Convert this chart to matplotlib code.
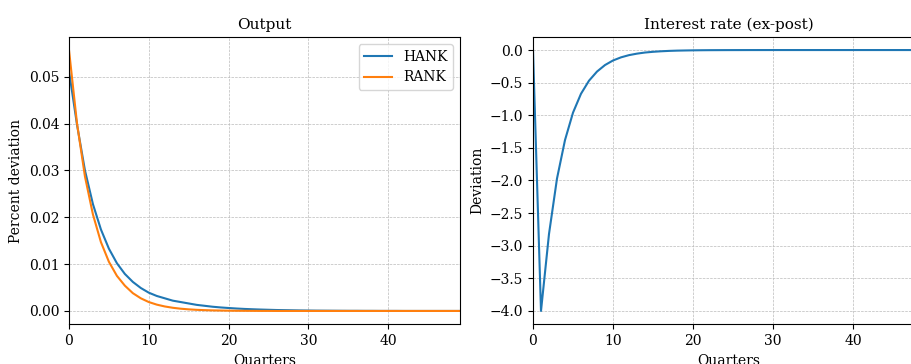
import matplotlib
matplotlib.use("Agg")
import matplotlib.pyplot as plt
import numpy as np

plt.rcParams['font.family'] = 'DejaVu Serif'
plt.rcParams['font.size'] = 10

# Impulse responses (quarters 0..49)
quarters = np.arange(50)

hank_output = [
    0.0512, 0.0398, 0.0300, 0.0228, 0.0174, 0.0133, 0.0102, 0.0079, 0.0062, 0.0049,
    0.0039, 0.0032, 0.0027, 0.0022, 0.0019, 0.0016, 0.0013, 0.0011, 0.0009, 0.00075,
    0.00063, 0.00052, 0.00043, 0.00036, 0.0003, 0.00025, 0.0002, 0.00017, 0.00014, 0.00011,
    0.00009, 0.00007, 0.00006, 0.00005, 0.00004, 0.00003, 0.00003, 0.00002, 0.00002, 0.00001,
    0.00001, 0.00001, 0.0, 0.0, 0.0, 0.0, 0.0, 0.0, 0.0, 0.0,
]
rank_output = [
    0.0557, 0.0401, 0.0287, 0.0206, 0.0147, 0.0105, 0.0075, 0.0054, 0.0038, 0.0027,
    0.0019, 0.00135, 0.00096, 0.00068, 0.00048, 0.00034, 0.00024, 0.00017, 0.00012, 0.00009,
    0.00006, 0.00004, 0.00003, 0.00002, 0.00001, 0.00001, 0.0, 0.0, 0.0, 0.0,
    0.0, 0.0, 0.0, 0.0, 0.0, 0.0, 0.0, 0.0, 0.0, 0.0,
    0.0, 0.0, 0.0, 0.0, 0.0, 0.0, 0.0, 0.0, 0.0, 0.0,
]
interest_rate = [
    0.0, -4.0, -2.82, -1.97, -1.38, -0.96, -0.67, -0.47, -0.33, -0.23,
    -0.16, -0.112, -0.078, -0.055, -0.038, -0.027, -0.019, -0.013, -0.009, -0.0065,
    -0.0045, -0.003, -0.002, -0.0015, -0.001, -0.0007, -0.0005, -0.0003, -0.0002, -0.0001,
    0.0, 0.0, 0.0, 0.0, 0.0, 0.0, 0.0, 0.0, 0.0, 0.0,
    0.0, 0.0, 0.0, 0.0, 0.0, 0.0, 0.0, 0.0, 0.0, 0.0,
]

fig = plt.figure(figsize=(9.12, 3.64), dpi=100)
W, H = 912, 364

# axes placed in pixel units; right panel runs past the figure edge like the reference crop
ax1 = fig.add_axes([69 / W, (H - 324) / H, 391 / W, 287 / H])
ax2 = fig.add_axes([533 / W, (H - 324) / H, 392 / W, 287 / H])

ax1.plot(quarters, hank_output, label='HANK', linewidth=1.5)
ax1.plot(quarters, rank_output, label='RANK', linewidth=1.5)
ax1.set_title('Output', fontsize=11)
ax1.set_xlabel('Quarters')
ax1.set_ylabel('Percent deviation')
ax1.set_xlim(0, 49)
ax1.legend(loc='upper right')

ax2.plot(quarters, interest_rate, linewidth=1.5)
ax2.set_title('Interest rate (ex-post)', fontsize=11)
ax2.set_xlabel('Quarters')
ax2.set_ylabel('Deviation')
ax2.set_xlim(0, 49)

for ax in (ax1, ax2):
    ax.grid(True, linestyle='--', linewidth=0.5, color='#bbbbbb')

fig.savefig('out.png', dpi=100)
plt.close(fig)
